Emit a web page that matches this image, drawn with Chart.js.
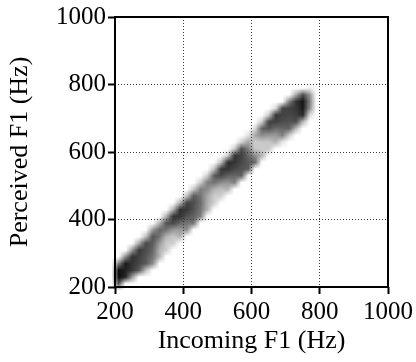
<!DOCTYPE html>
<html><head><meta charset="utf-8">
<script src="https://cdn.jsdelivr.net/npm/chart.js@4.4.1/dist/chart.umd.min.js"></script>
<style>html,body{margin:0;padding:0;background:#fff;}canvas{display:block;}</style>
</head><body>
<canvas id="c" width="416" height="362"></canvas>
<script>
// Incoming F1 column centres (Hz), 20 Hz wide cells
const incomingF1 = [210,230,250,270,290,310,330,350,370,390,410,430,450,470,490,510,530,550,570,590,610,630,650,670,690,710,730,750,770];
// Perceived F1 (Hz) of the lowest non-empty cell in each column
const bandStart = [210,230,230,250,250,270,290,310,330,350,370,390,410,430,450,470,490,510,530,550,570,590,610,630,630,650,670,690,710];
// Darkness (0 = white, 1 = black) of consecutive 20 Hz cells upward from bandStart
const bandLevels = [
  [0.67,0.95,0.95,0.5],
  [0.85,0.87,0.9,0.45],
  [0.4,0.78,0.8,0.82,0.4],
  [0.65,0.73,0.75,0.78,0.35],
  [0.25,0.65,0.67,0.7,0.72,0.25],
  [0.45,0.55,0.6,0.64,0.68,0.4],
  [0.3,0.3,0.4,0.55,0.6,0.3],
  [0.2,0.2,0.3,0.55,0.68,0.3],
  [0.2,0.22,0.4,0.72,0.8,0.3],
  [0.3,0.4,0.6,0.8,0.82,0.3],
  [0.45,0.55,0.68,0.78,0.75,0.25],
  [0.55,0.62,0.68,0.7,0.65,0.22],
  [0.5,0.55,0.58,0.55,0.5,0.2],
  [0.3,0.32,0.35,0.45,0.5,0.2],
  [0.2,0.2,0.3,0.55,0.65,0.25],
  [0.2,0.25,0.45,0.72,0.78,0.25],
  [0.3,0.42,0.62,0.8,0.82,0.2],
  [0.5,0.6,0.72,0.8,0.8,0.2],
  [0.62,0.68,0.72,0.75,0.7,0.18],
  [0.65,0.65,0.6,0.5,0.35,0.12],
  [0.6,0.45,0.22,0.2,0.35,0.15],
  [0.3,0.2,0.22,0.45,0.62,0.2],
  [0.22,0.22,0.4,0.68,0.75,0.2],
  [0.3,0.4,0.58,0.75,0.78,0.15],
  [0.1,0.5,0.6,0.7,0.75,0.72],
  [0.2,0.62,0.68,0.72,0.75,0.5],
  [0.27,0.7,0.75,0.78,0.8,0.35],
  [0.29,0.84,0.9,0.92,0.7],
  [0.14,0.45,0.5,0.42,0.06]
];
const tickValues = [200,400,600,800,1000];
const xTitle = 'Incoming F1 (Hz)';
const yTitle = 'Perceived F1 (Hz)';
const cellSize = 20;

const cells = [];
incomingF1.forEach((x, i) => {
  bandLevels[i].forEach((v, k) => cells.push({x: x, y: bandStart[i] + k * cellSize, v: v}));
});

const Base = Chart.ScatterController || Chart.controllers.scatter;
class HeatmapController extends Base {
  draw() {
    const meta = this._cachedMeta;
    const xs = meta.xScale, ys = meta.yScale;
    const pts = this.getDataset().data;
    const half = cellSize / 2;
    let minX = Infinity, maxX = -Infinity, minY = Infinity, maxY = -Infinity;
    pts.forEach(p => {
      minX = Math.min(minX, p.x); maxX = Math.max(maxX, p.x);
      minY = Math.min(minY, p.y); maxY = Math.max(maxY, p.y);
    });
    const x0 = minX - half - cellSize, x1 = maxX + half + cellSize;
    const y0 = minY - half - cellSize, y1 = maxY + half + cellSize;
    const nx = Math.round((x1 - x0) / cellSize), ny = Math.round((y1 - y0) / cellSize);
    const off = document.createElement('canvas');
    off.width = nx; off.height = ny;
    const octx = off.getContext('2d');
    const img = octx.createImageData(nx, ny);
    pts.forEach(p => {
      const i = Math.round((p.x - half - x0) / cellSize);
      const j = Math.round((y1 - (p.y + half)) / cellSize);
      const idx = (j * nx + i) * 4;
      img.data[idx + 3] = Math.round(Math.min(1, p.v) * 255);
    });
    octx.putImageData(img, 0, 0);
    const ctx = this.chart.ctx;
    const L = xs.getPixelForValue(x0), R = xs.getPixelForValue(x1);
    const T = ys.getPixelForValue(y1), B = ys.getPixelForValue(y0);
    ctx.save();
    ctx.imageSmoothingEnabled = true;
    ctx.drawImage(off, L, T, R - L, B - T);
    ctx.restore();
  }
}
HeatmapController.id = 'heatmap';
HeatmapController.defaults = Base.defaults;
HeatmapController.overrides = Base.overrides;
Chart.register(HeatmapController);

// box frame around the plot area
const framePlugin = {
  id: 'frame',
  afterDraw(chart) {
    const a = chart.chartArea, ctx = chart.ctx;
    ctx.save();
    ctx.strokeStyle = '#000';
    ctx.lineWidth = 2;
    ctx.beginPath();
    ctx.moveTo(Math.round(a.left), Math.round(a.top));
    ctx.lineTo(Math.round(a.right), Math.round(a.top));
    ctx.lineTo(Math.round(a.right), Math.round(a.bottom));
    ctx.lineTo(Math.round(a.left), Math.round(a.bottom));
    ctx.closePath();
    ctx.stroke();
    ctx.restore();
  }
};

const serif = '"Liberation Serif", "Times New Roman", serif';
const tickFont = {family: serif, size: 25};
const titleFont = {family: serif, size: 26};
const edgeClear = c => (c.tick && (c.tick.value === tickValues[0] || c.tick.value === tickValues[tickValues.length - 1])) ? 'rgba(0,0,0,0)' : '#3a3a3a';

new Chart(document.getElementById('c'), {
  type: 'scatter',
  data: { datasets: [{ type: 'heatmap', data: cells, pointRadius: 0 }] },
  plugins: [framePlugin],
  options: {
    responsive: false,
    devicePixelRatio: 1,
    animation: false,
    events: [],
    layout: { padding: {left: 0, top: 15, right: 27, bottom: 0} },
    plugins: { legend: {display: false}, tooltip: {enabled: false} },
    scales: {
      x: {
        type: 'linear', position: 'bottom', min: 200, max: 1000,
        afterBuildTicks: s => { s.ticks = tickValues.map(v => ({value: v})); },
        ticks: { font: tickFont, color: '#000', padding: 3, maxRotation: 0, autoSkip: false, callback: v => String(v) },
        grid: { z: 1, color: edgeClear, lineWidth: 1, drawTicks: true, tickLength: 7, tickColor: '#000', tickWidth: 2 },
        border: { display: false, dash: [1, 2] },
        title: { display: true, text: xTitle, font: titleFont, color: '#000', padding: {top: 0, bottom: 5} },
        afterFit: s => { s.height = 75; }
      },
      y: {
        type: 'linear', position: 'left', min: 200, max: 1000,
        afterBuildTicks: s => { s.ticks = tickValues.map(v => ({value: v})); },
        ticks: { font: tickFont, color: '#000', padding: 2, autoSkip: false, callback: v => String(v) },
        grid: { z: 1, color: edgeClear, lineWidth: 1, drawTicks: true, tickLength: 7, tickColor: '#000', tickWidth: 2 },
        border: { display: false, dash: [1, 2] },
        title: { display: true, text: yTitle, font: titleFont, color: '#000', padding: {top: 5, bottom: 0} },
        afterFit: s => { s.width = 115; }
      }
    }
  }
});
</script>
</body></html>
